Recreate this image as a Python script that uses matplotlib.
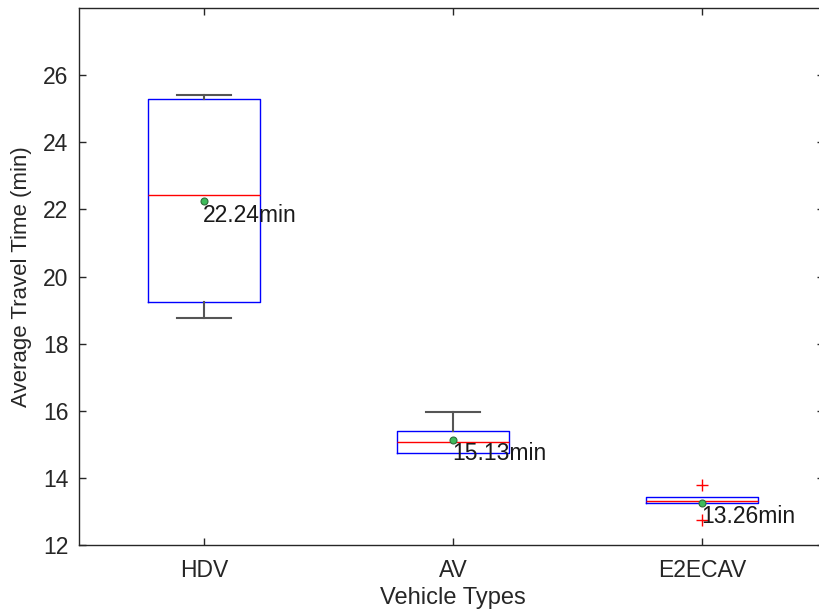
import numpy as np
import matplotlib.pyplot as plt

# vehicle types and the box statistics (minutes)
types = ["HDV", "AV", "E2ECAV"]
whislo = [18.75, 14.75, 13.24]
q1 = [19.23, 14.75, 13.24]
med = [22.43, 15.08, 13.30]
q3 = [25.30, 15.40, 13.42]
whishi = [25.41, 15.97, 13.42]
fliers = [[], [], [13.78, 12.74]]
means = [22.24, 15.13, 13.26]

plt.rcParams['font.family'] = ['Liberation Sans', 'DejaVu Sans']
axcol = '#262626'

fig = plt.figure(figsize=(8.2, 6.13), dpi=100)
# the axes run a little past the right edge of the figure, as in the original
ax = fig.add_axes([79.5/820, 68/613, 747/820, 537/613])

stats = []
for i in range(len(types)):
    stats.append({'whislo': whislo[i], 'q1': q1[i], 'med': med[i], 'q3': q3[i],
                  'whishi': whishi[i], 'fliers': fliers[i], 'label': types[i]})

pos = np.arange(1, len(types) + 1)
bp = ax.bxp(stats, positions=pos, widths=0.45, capwidths=0.22, showfliers=True,
            boxprops=dict(color='#0000ff', linewidth=1.0),
            medianprops=dict(color='#ff0000', linewidth=1.0),
            whiskerprops=dict(color='#555555', linewidth=1.5),
            capprops=dict(color='#555555', linewidth=1.5),
            flierprops=dict(marker='+', markeredgecolor='#ff0000', markersize=9, markeredgewidth=1.0))

# no cap where the whisker has zero length
for i in range(len(types)):
    if whislo[i] == q1[i]:
        bp['caps'][2*i].set_visible(False)
        bp['whiskers'][2*i].set_visible(False)
    if whishi[i] == q3[i]:
        bp['caps'][2*i+1].set_visible(False)
        bp['whiskers'][2*i+1].set_visible(False)

ax.plot(pos, means, 'o', markersize=5, markerfacecolor='#3dbb5a',
        markeredgecolor='#2e6b3a', markeredgewidth=0.8, linestyle='none', zorder=5)
for p, m in zip(pos, means):
    ax.annotate('%.2fmin' % m, xy=(p, m), xytext=(-1, -14), textcoords='offset pixels',
                ha='left', va='center', fontsize=16.5, color='#1a1a1a')

ax.set_xlim(0.5, 3.5)
ax.set_ylim(12, 28)
ax.set_yticks(np.arange(12, 27, 2))
ax.set_xticks(pos)
ax.set_xticklabels(types)
ax.tick_params(direction='in', top=True, right=True, length=5, width=1,
               colors=axcol, labelsize=16.5)
ax.tick_params(axis='x', pad=10)
ax.tick_params(axis='y', pad=8)
for s in ax.spines.values():
    s.set_color(axcol)
    s.set_linewidth(1)
# right spine falls outside the figure; only the tips of its ticks show
ax.spines['right'].set_visible(False)
for t in ax.yaxis.get_major_ticks():
    t.tick2line.set_markersize(7)

ax.set_xlabel('Vehicle Types', fontsize=17, color=axcol, labelpad=4)
ax.set_ylabel('Average Travel Time (min)', fontsize=16, color=axcol, labelpad=8)

fig.savefig('out.png', dpi=100)
